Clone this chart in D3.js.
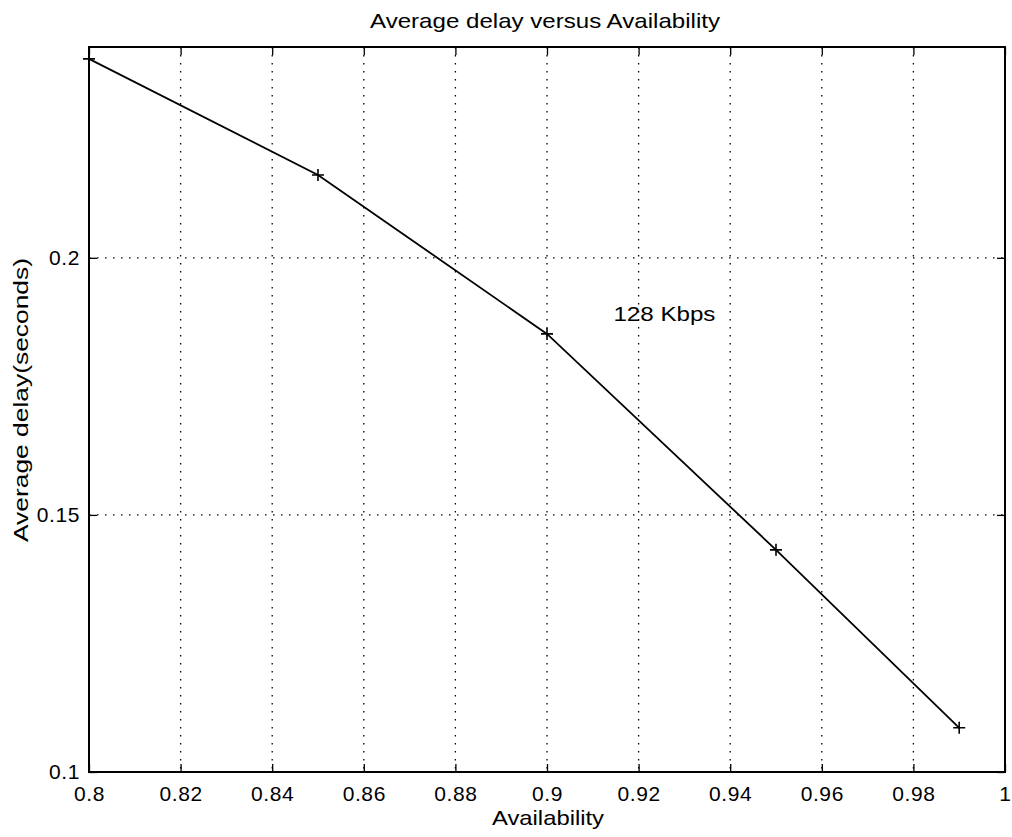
<!DOCTYPE html>
<html><head><meta charset="utf-8">
<script src="https://cdn.jsdelivr.net/npm/d3@7"></script>
<style>body{margin:0;background:#fff}text{font-family:"Liberation Sans",Arial,sans-serif;fill:#000}</style>
</head><body>
<svg id="c" width="1012" height="837"></svg>
<script>
const availability = [0.8, 0.85, 0.9, 0.95, 0.99];
const avgDelay = [0.2387, 0.2161, 0.1852, 0.1432, 0.1086];
const xTicks = [0.8, 0.82, 0.84, 0.86, 0.88, 0.9, 0.92, 0.94, 0.96, 0.98, 1];
const xTickLabels = ["0.8","0.82","0.84","0.86","0.88","0.9","0.92","0.94","0.96","0.98","1"];
const yTicks = [0.1, 0.15, 0.2];
const yTickLabels = ["0.1","0.15","0.2"];
const annotation = {x: 0.9145, y: 0.1877, text: "128 Kbps"};

const svg = d3.select("#c");
const L = 89, R = 1005, T = 47, B = 772;
const x = d3.scaleLinear().domain([0.8, 1]).range([L, R]);
const y = d3.scaleLinear().domain([0.1, 0.241]).range([B, T]);

// grid
const g = svg.append("g");
g.selectAll(".gx").data(xTicks.slice(1, -1)).enter().append("line")
  .attr("x1", d => x(d)).attr("x2", d => x(d)).attr("y1", T).attr("y2", B)
  .attr("stroke", "#000").attr("stroke-width", 1.3).attr("stroke-dasharray", "1.5,6.5");
g.selectAll(".gy").data(yTicks.slice(1)).enter().append("line")
  .attr("y1", d => y(d)).attr("y2", d => y(d)).attr("x1", L).attr("x2", R)
  .attr("stroke", "#000").attr("stroke-width", 1.3).attr("stroke-dasharray", "1.5,6.5");

// axes
const xAxis = d3.axisBottom(x).tickValues(xTicks).tickFormat((d, i) => xTickLabels[i]).tickSizeInner(-8).tickSizeOuter(0).tickPadding(14);
const yAxis = d3.axisLeft(y).tickValues(yTicks).tickFormat((d, i) => yTickLabels[i]).tickSizeInner(-8).tickSizeOuter(0).tickPadding(9);
const xa = svg.append("g").attr("transform", `translate(0,${B})`).call(xAxis);
const ya = svg.append("g").attr("transform", `translate(${L},0)`).call(yAxis);
svg.append("g").attr("transform", `translate(0,${T})`).call(d3.axisTop(x).tickValues(xTicks).tickFormat("").tickSizeInner(-8).tickSizeOuter(0));
svg.append("g").attr("transform", `translate(${R},0)`).call(d3.axisRight(y).tickValues(yTicks).tickFormat("").tickSizeInner(-8).tickSizeOuter(0));
svg.selectAll(".domain").remove();
svg.selectAll(".tick line").attr("stroke", "#000").attr("stroke-width", 1.3);
svg.selectAll(".tick text").style("font-size", "21px").style("letter-spacing", "0.6px").attr("font-family", null);
xa.selectAll(".tick text").attr("dy", "0.72em");
svg.append("rect").attr("x", L).attr("y", T).attr("width", R - L).attr("height", B - T)
  .attr("fill", "none").attr("stroke", "#000").attr("stroke-width", 2);

// line
const data = availability.map((a, i) => [a, avgDelay[i]]);
svg.append("path").datum(data)
  .attr("d", d3.line().x(d => x(d[0])).y(d => y(d[1])))
  .attr("fill", "none").attr("stroke", "#000").attr("stroke-width", 1.8);
svg.selectAll(".mk").data(data).enter().append("path")
  .attr("d", d => `M${x(d[0]) - 6},${y(d[1])}H${x(d[0]) + 6}M${x(d[0])},${y(d[1]) - 6}V${y(d[1]) + 6}`)
  .attr("stroke", "#000").attr("stroke-width", 1.6);

// text
svg.append("text").attr("x", x(annotation.x)).attr("y", y(annotation.y))
  .style("font-size", "21px").attr("textLength", 102).attr("lengthAdjust", "spacingAndGlyphs").text(annotation.text);
svg.append("text").attr("x", 370).attr("y", 28)
  .style("font-size", "21px").attr("textLength", 350).attr("lengthAdjust", "spacingAndGlyphs").text("Average delay versus Availability");
svg.append("text").attr("x", 492).attr("y", 825)
  .style("font-size", "21px").attr("textLength", 112).attr("lengthAdjust", "spacingAndGlyphs").text("Availability");
svg.append("text").attr("transform", `translate(28,542) rotate(-90)`)
  .style("font-size", "21px").attr("textLength", 284).attr("lengthAdjust", "spacingAndGlyphs").text("Average delay(seconds)");
</script>
</body></html>
